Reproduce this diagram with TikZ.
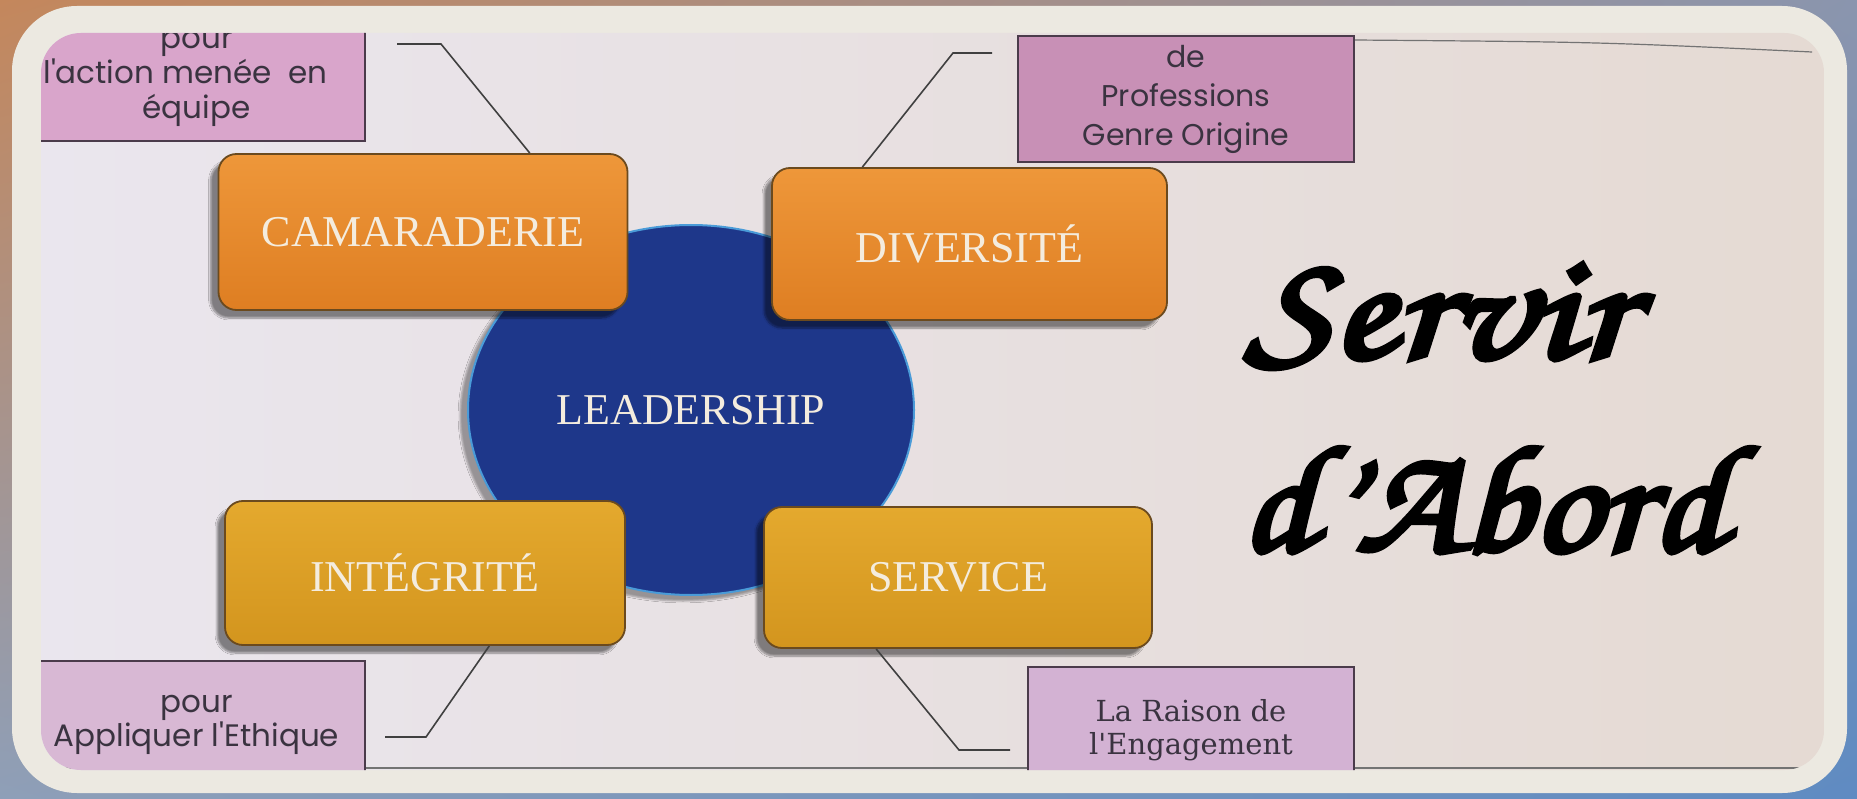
\documentclass[tikz,border=0pt]{standalone}
\usepackage[T1]{fontenc}
\usepackage{fontspec}
\usepackage{graphicx}
\setmainfont{Liberation Serif}
\newfontfamily\popfont{Poppins}
\newfontfamily\dvsfont{DejaVu Serif}
\usetikzlibrary{shapes.geometric,shadows.blur,shadings,calc}
\definecolor{bgTL}{HTML}{C4875C}
\definecolor{bgTR}{HTML}{8A95AE}
\definecolor{bgBL}{HTML}{8E9FB8}
\definecolor{bgBR}{HTML}{5F8BC2}
\definecolor{framew}{HTML}{ECE9E1}
\definecolor{scrL}{HTML}{EAE6EE}
\definecolor{scrR}{HTML}{E5DAD3}
\definecolor{pinkA}{HTML}{D9A5CB}
\definecolor{pinkB}{HTML}{C890B6}
\definecolor{pinkC}{HTML}{D8B8D4}
\definecolor{pinkD}{HTML}{D3B2D3}
\definecolor{pinkedge}{HTML}{4B3B4B}
\definecolor{pinktext}{HTML}{3A3340}
\definecolor{orTop}{HTML}{EE973A}
\definecolor{orBot}{HTML}{DE7E22}
\definecolor{goTop}{HTML}{E4A92E}
\definecolor{goBot}{HTML}{D3951E}
\definecolor{boxedge}{HTML}{6B4A1E}
\definecolor{lblue}{HTML}{1E378A}
\definecolor{lrim}{HTML}{4A9BD8}
\definecolor{wtext}{HTML}{F4ECDE}
\newcommand{\scriptfnt}{\fontencoding{T1}\fontfamily{pzc}\fontseries{mb}\fontshape{it}\fontsize{150}{150}\selectfont}
\newcommand{\heavytext}[1]{\special{pdf:literal direct 2 Tr 5 w 0 G}#1\special{pdf:literal direct 0 Tr 1 w}}
\tikzset{
  pinkbox/.style={draw=pinkedge, line width=2pt, align=center, text=pinktext, inner sep=0pt},
  orbox/.style={draw=boxedge, line width=1.8pt, rounded corners=18pt, text=wtext,
    font=\fontsize{44}{48}\selectfont, inner sep=0pt,
    blur shadow={shadow xshift=-8pt, shadow yshift=-8pt, shadow blur steps=8, shadow opacity=45}},
  conn/.style={draw=black!75, line width=1.6pt},
  scripttext/.style={anchor=base west, inner sep=0pt, font=\scriptfnt},
}
\begin{document}
\begin{tikzpicture}[x=1pt,y=-1pt]
\useasboundingbox (0,0) rectangle (1857,799);
\shade[upper left=bgTL, upper right=bgTR, lower left=bgBL, lower right=bgBR] (0,0) rectangle (1857,799);
\fill[framew, rounded corners=65pt] (12,6) rectangle (1847,793);
\begin{scope}
\path[clip, rounded corners=40pt] (41,33) rectangle (1824,770);
\shade[left color=scrL, right color=scrR] (41,33) rectangle (1824,770);
\draw[black!55, line width=1.2pt] (1354,40) .. controls (1600,42) .. (1812,52);
\draw[black!55, line width=1.2pt] (41,768) -- (1824,768);
% pink boxes
\node[pinkbox, fill=pinkA, minimum width=337pt, minimum height=125pt,
  font=\popfont\fontsize{31}{35}\selectfont] (tl) at (196.5,79)
  {pour\\\hspace*{-22pt}l'action menée\ \ en\\équipe};
\node[pinkbox, fill=pinkB, minimum width=336pt, minimum height=126pt,
  font=\popfont\fontsize{30}{39}\selectfont] (tr) at (1186,99)
  {de\\Professions\\Genre Origine};
\node[pinkbox, fill=pinkC, minimum width=337pt, minimum height=128pt,
  font=\popfont\fontsize{31}{31}\selectfont] (bl) at (196.5,725)
  {pour\\Appliquer l'Ethique};
\node[pinkbox, fill=pinkD, minimum width=326pt, minimum height=126pt,
  font=\dvsfont\fontsize{29}{33}\selectfont] (br) at (1191,730)
  {La Raison de\\l'Engagement};
% central ellipse
\node[ellipse, fill=lblue, draw=lrim, line width=2pt, minimum width=446pt, minimum height=370pt,
  inner sep=0pt, text=wtext, font=\fontsize{44}{48}\selectfont,
  blur shadow={shadow xshift=-8pt, shadow yshift=-6pt, shadow opacity=35}] (lead) at (691,410) {LEADERSHIP};
% orange boxes
\node[orbox, top color=orTop, bottom color=orBot, minimum width=409pt, minimum height=156pt] (cam) at (423,232) {CAMARADERIE};
\node[orbox, top color=orTop, bottom color=orBot, minimum width=395pt, minimum height=152pt] (div) at (969.5,244) {DIVERSITÉ};
\node[orbox, top color=goTop, bottom color=goBot, minimum width=400pt, minimum height=144pt] (int) at (425,573) {INTÉGRITÉ};
\node[orbox, top color=goTop, bottom color=goBot, minimum width=388pt, minimum height=141pt] (ser) at (958,577.5) {SERVICE};
% connectors
\coordinate (tlc) at (397,44);
\coordinate (trc) at (992,53);
\coordinate (blc) at (385,737);
\coordinate (brc) at (1010,750);
\draw[conn] (tlc) -- ++(44,0) -- ($(cam.north west)!0.76!(cam.north east)$);
\draw[conn] (trc) -- ++(-39,0) -- ($(div.north west)!0.23!(div.north east)$);
\draw[conn] (blc) -- ++(41,0) -- ($(int.south west)!0.66!(int.south east)$);
\draw[conn] (brc) -- ++(-51,0) -- ($(ser.south west)!0.29!(ser.south east)$);
% script title
\node[scripttext] (servir) at (1245,358) {\heavytext{\scalebox{1.24}[1.02]{Servir}}};
\node[scripttext] (abord) at (1240,551) {\heavytext{\scalebox{1.13}[1.02]{d'Abord}}};
\end{scope}
\end{tikzpicture}
\end{document}
